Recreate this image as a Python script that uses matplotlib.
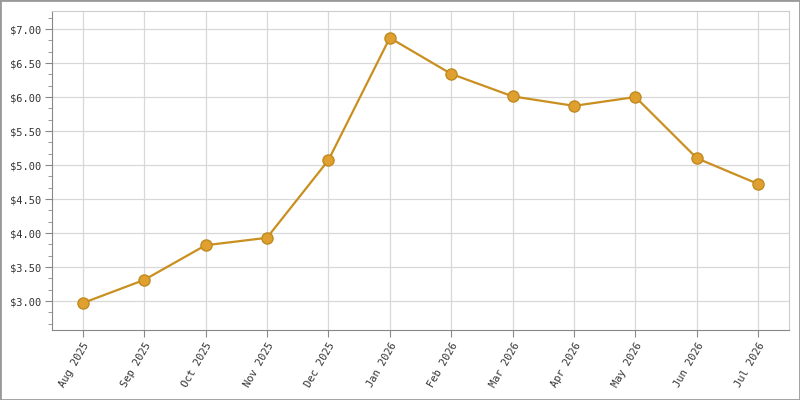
import matplotlib
matplotlib.use("Agg")
import matplotlib.pyplot as plt
from matplotlib.ticker import MultipleLocator, FuncFormatter
from matplotlib.patches import Rectangle

months = ["Aug 2025", "Sep 2025", "Oct 2025", "Nov 2025", "Dec 2025", "Jan 2026",
          "Feb 2026", "Mar 2026", "Apr 2026", "May 2026", "Jun 2026", "Jul 2026"]
prices = [2.97, 3.31, 3.82, 3.93, 5.07, 6.87, 6.34, 6.01, 5.87, 6.00, 5.10, 4.72]

fig = plt.figure(figsize=(8, 4), dpi=100)
ax = fig.add_axes([52/800, 1 - 330/400, (789-52)/800, (330-11)/400])

x = list(range(len(months)))
ax.plot(x, prices, color="#c98f1f", lw=1.6, zorder=3)
ax.plot(x, prices, 'o', ms=8, markerfacecolor="#e0a030", markeredgecolor="#c08a20",
        markeredgewidth=1, zorder=4)

ax.set_xlim(-0.5, 11.5)
ax.set_ylim(2.574, 7.265)
ax.set_xticks(x)
ax.set_xticklabels(months, rotation=60, ha="right", rotation_mode="anchor",
                   family="DejaVu Sans Mono", fontsize=7.5, color="#333333")
ax.yaxis.set_major_locator(MultipleLocator(0.5))
ax.yaxis.set_minor_locator(MultipleLocator(0.5/3))
ax.yaxis.set_major_formatter(FuncFormatter(lambda v, p: f"${v:.2f}"))
for lab in ax.get_yticklabels():
    lab.set_family("DejaVu Sans Mono")
    lab.set_fontsize(7.5)
    lab.set_color("#333333")

ax.grid(True, which="major", color="#d8d8d8", lw=0.9)
ax.set_axisbelow(True)
for s in ["top", "right"]:
    ax.spines[s].set_color("#cccccc")
for s in ["left", "bottom"]:
    ax.spines[s].set_color("#888888")
ax.tick_params(axis="both", which="major", length=5, color="#888888", pad=3)
ax.tick_params(axis="y", which="minor", length=3, color="#888888")

fig.patches.append(Rectangle((0, 0), 1, 1, transform=fig.transFigure, fill=False,
                             edgecolor="#999999", lw=2))
fig.savefig("out.png", dpi=100)
